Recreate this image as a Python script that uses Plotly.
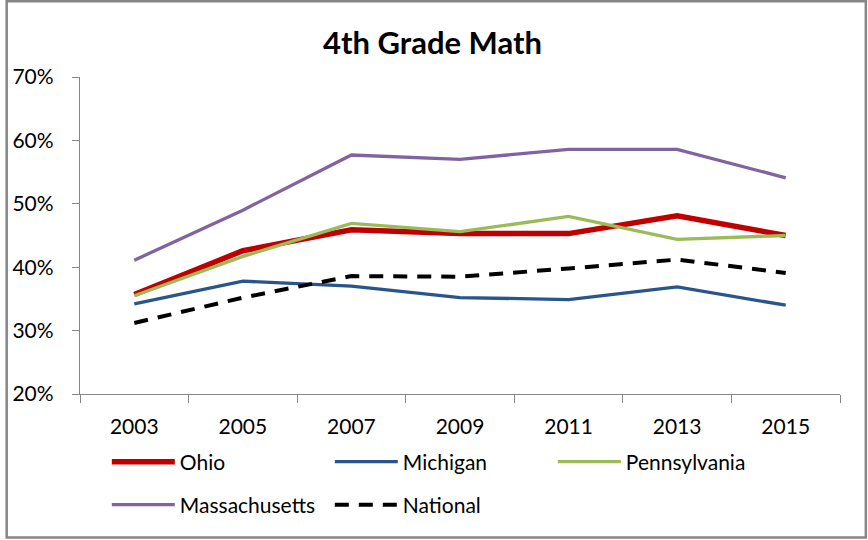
import plotly.graph_objects as go

years = ["2003", "2005", "2007", "2009", "2011", "2013", "2015"]
ohio = [35.7, 42.6, 45.9, 45.3, 45.3, 48.1, 45.0]
michigan = [34.2, 37.8, 37.0, 35.2, 34.9, 36.9, 34.0]
pennsylvania = [35.5, 41.7, 46.9, 45.6, 48.0, 44.4, 45.0]
massachusetts = [41.1, 49.0, 57.7, 57.0, 58.6, 58.6, 54.1]
national = [31.2, 35.2, 38.6, 38.5, 39.8, 41.2, 39.1]

W, H = 868, 540
L, R, T, B = 75, 28, 77, 146
pw, ph = W - L - R, H - T - B

FONT = "Lato"
FS = 21

def px_x(x):
    return (x - L) / pw

def px_y(y):
    return (H - B - y) / ph

fig = go.Figure()
series = [
    ("Ohio", ohio, "#C00000", 5.5, "solid", "legend"),
    ("Michigan", michigan, "#28558A", 3.3, "solid", "legend"),
    ("Pennsylvania", pennsylvania, "#9BBB59", 3.3, "solid", "legend"),
    ("Massachusetts", massachusetts, "#8064A2", 3.3, "solid", "legend2"),
    ("National", national, "#000000", 4, "14px,10px", "legend2"),
]
for name, vals, color, wdt, dash, lg in series:
    fig.add_trace(go.Scatter(
        x=years, y=[v / 100 for v in vals], mode="lines", name=name,
        line=dict(color=color, width=wdt, dash=dash), legend=lg,
    ))

legend_common = dict(
    orientation="h", xanchor="left", yanchor="middle",
    font=dict(family=FONT, size=FS, color="#000000"),
    bgcolor="rgba(0,0,0,0)", entrywidth=145, entrywidthmode="pixels",
    itemwidth=63, tracegroupgap=0,
)

fig.update_layout(
    width=W, height=H,
    margin=dict(l=L, r=R, t=T, b=B),
    paper_bgcolor="white", plot_bgcolor="white",
    title=dict(text="<b>4th Grade Math</b>", x=(322 + 543) / 2 / W, xanchor="center",
               y=1 - 43 / H, yanchor="middle",
               font=dict(family=FONT, size=31, color="#000000")),
    font=dict(family=FONT, size=FS, color="#000000"),
    xaxis=dict(
        type="category", showline=True, linecolor="#868686", linewidth=1.3,
        ticks="outside", tickson="boundaries", ticklen=8, tickcolor="#868686",
        showgrid=False, tickfont=dict(family=FONT, size=FS, color="#000000"),
        range=[-0.5, 6.5], ticklabelstandoff=14,
    ),
    yaxis=dict(
        range=[0.2, 0.7], dtick=0.1, tickformat=".0%", showline=True,
        linecolor="#868686", linewidth=1.3, ticks="outside", ticklen=7,
        tickcolor="#868686", showgrid=False, zeroline=False,
        tickfont=dict(family=FONT, size=FS, color="#000000"),
        ticklabelstandoff=14,
    ),
    legend=dict(x=px_x(102), y=px_y(462), **legend_common),
    legend2=dict(x=px_x(102), y=px_y(505), **legend_common),
    showlegend=True,
    shapes=[dict(
        type="rect", xref="paper", yref="paper",
        x0=px_x(1.2), x1=px_x(866), y0=px_y(537.5), y1=px_y(1.2),
        line=dict(color="#868686", width=2.5), fillcolor="rgba(0,0,0,0)",
        layer="below",
    )],
)

fig.write_html("out.html", config={"displayModeBar": False},
               post_script="document.body.style.margin='0';")
